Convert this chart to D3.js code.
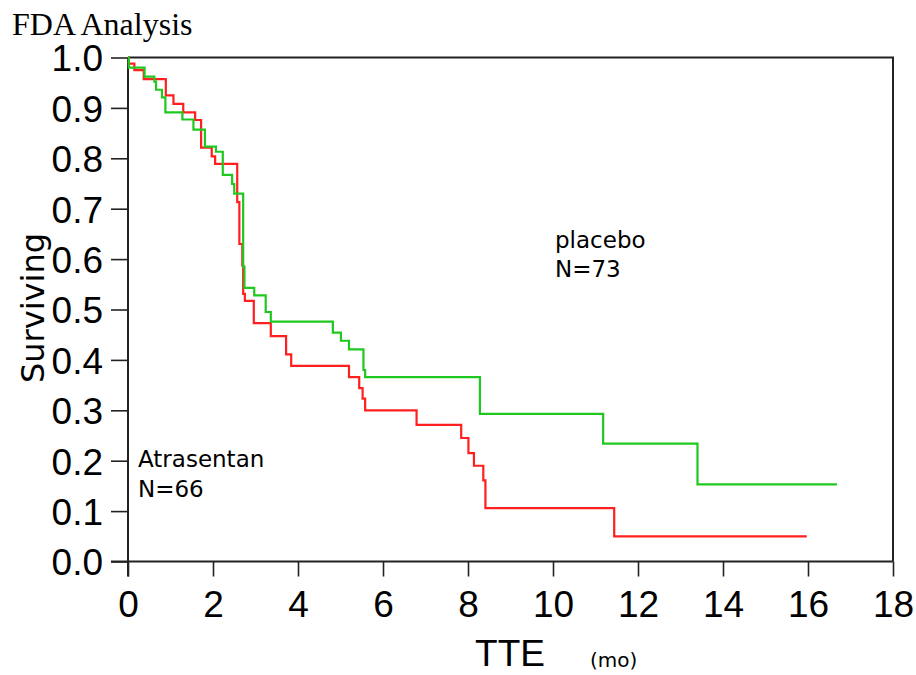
<!DOCTYPE html>
<html>
<head>
<meta charset="utf-8">
<script src="https://cdn.jsdelivr.net/npm/d3@7"></script>
<style>
  html, body { margin: 0; padding: 0; background: #fff; }
  svg { display: block; }
</style>
</head>
<body>
<svg id="chart" width="916" height="675"></svg>
<script>
// Kaplan-Meier estimates, time to event in months
const atrasentanTime = [0, 0.02, 0.15, 0.37, 0.89, 1.07, 1.30, 1.58, 1.72, 1.97, 2.05, 2.57, 2.62, 2.69, 2.71, 2.75, 2.96, 3.36, 3.72, 3.84, 5.20, 5.44, 5.52, 5.58, 6.79, 7.84, 8.01, 8.14, 8.36, 8.41, 11.44, 15.97];
const atrasentanSurv = [1.0, 0.988, 0.975, 0.957, 0.925, 0.908, 0.891, 0.876, 0.821, 0.804, 0.789, 0.713, 0.630, 0.587, 0.531, 0.517, 0.473, 0.447, 0.411, 0.388, 0.366, 0.344, 0.323, 0.300, 0.271, 0.245, 0.215, 0.190, 0.161, 0.106, 0.050, 0.050];

const placeboTime = [0, 0.02, 0.39, 0.62, 0.66, 0.80, 0.88, 1.28, 1.54, 1.81, 2.07, 2.23, 2.45, 2.50, 2.71, 2.74, 2.97, 3.24, 3.36, 4.82, 5.01, 5.20, 5.54, 5.58, 8.28, 11.18, 13.40, 16.68];
const placeboSurv = [1.0, 0.980, 0.962, 0.952, 0.936, 0.921, 0.891, 0.877, 0.857, 0.823, 0.813, 0.767, 0.749, 0.730, 0.585, 0.543, 0.528, 0.495, 0.476, 0.454, 0.438, 0.421, 0.380, 0.366, 0.293, 0.234, 0.153, 0.153];

const xTicks = [0, 2, 4, 6, 8, 10, 12, 14, 16, 18];
const yTicks = [0, 0.1, 0.2, 0.3, 0.4, 0.5, 0.6, 0.7, 0.8, 0.9, 1.0];

const svg = d3.select("#chart");

const x = d3.scaleLinear().domain([0, 18]).range([128, 893]);
const y = d3.scaleLinear().domain([0, 1]).range([561.5, 57.5]);

const sans = "'Liberation Sans', Arial, sans-serif";
const vera = "'DejaVu Sans', Verdana, sans-serif";

// title
svg.append("text")
  .attr("x", 12).attr("y", 35)
  .attr("font-family", "'Liberation Serif', 'Times New Roman', serif")
  .attr("font-size", 32)
  .attr("fill", "#000")
  .text("FDA Analysis");

// frame (top and right)
svg.append("path")
  .attr("d", `M${x(0)},${y(1)}H${x(18)}V${y(0)}`)
  .attr("fill", "none").attr("stroke", "#222").attr("stroke-width", 2);

// x axis
const xAxis = d3.axisBottom(x).tickValues(xTicks).tickFormat(d3.format("d"))
  .tickSize(15).tickSizeOuter(0).tickPadding(4);
const gx = svg.append("g").attr("transform", `translate(0,${y(0)})`).call(xAxis);
gx.select(".domain").attr("stroke", "#222").attr("stroke-width", 2)
  .attr("d", `M${x(0) - 17},0H${x(18)}`);
gx.selectAll(".tick line").attr("stroke", "#222").attr("stroke-width", 1.6);
gx.selectAll(".tick text")
  .attr("font-family", sans).attr("font-size", 37).attr("fill", "#000")
  .attr("dy", null).attr("y", 55);

// y axis
const yAxis = d3.axisLeft(y).tickValues(yTicks).tickFormat(d3.format(".1f"))
  .tickSize(17).tickSizeOuter(0).tickPadding(8);
const gy = svg.append("g").attr("transform", `translate(${x(0)},0)`).call(yAxis);
gy.select(".domain").attr("stroke", "#222").attr("stroke-width", 2)
  .attr("d", `M0,${y(1)}V${y(0) + 15}`);
gy.selectAll(".tick line").attr("stroke", "#222").attr("stroke-width", 1.6);
gy.selectAll(".tick text")
  .attr("font-family", sans).attr("font-size", 37).attr("fill", "#000")
  .attr("dy", "0.36em");

// axis titles
svg.append("text")
  .attr("x", 510).attr("y", 666)
  .attr("text-anchor", "middle")
  .attr("font-family", sans).attr("font-size", 37).attr("fill", "#000")
  .text("TTE");
svg.append("text")
  .attr("x", 590).attr("y", 667)
  .attr("font-family", vera).attr("font-size", 20).attr("fill", "#000")
  .text("(mo)");
svg.append("text")
  .attr("transform", "translate(44,308) rotate(-90)")
  .attr("text-anchor", "middle")
  .attr("font-family", vera).attr("font-size", 32).attr("fill", "#000")
  .text("Surviving");

// survival step curves
const stepLine = d3.line()
  .x(d => x(d[0]))
  .y(d => y(d[1]))
  .curve(d3.curveStepAfter);

const atrasentan = d3.zip(atrasentanTime, atrasentanSurv);
const placebo = d3.zip(placeboTime, placeboSurv);

svg.append("path").datum(atrasentan)
  .attr("d", stepLine)
  .attr("fill", "none").attr("stroke", "#ff1f1f").attr("stroke-width", 2.2);
svg.append("path").datum(placebo)
  .attr("d", stepLine)
  .attr("fill", "none").attr("stroke", "#1fc81f").attr("stroke-width", 2.2);

// group annotations
const notes = [
  { lines: ["placebo", "N=73"], x: 555, y: 248, gap: 28.5 },
  { lines: ["Atrasentan", "N=66"], x: 138, y: 466.5, gap: 30 }
];
notes.forEach(n => {
  n.lines.forEach((s, i) => {
    svg.append("text")
      .attr("x", n.x).attr("y", n.y + i * n.gap)
      .attr("font-family", vera).attr("font-size", 23).attr("fill", "#000")
      .text(s);
  });
});
</script>
</body>
</html>
